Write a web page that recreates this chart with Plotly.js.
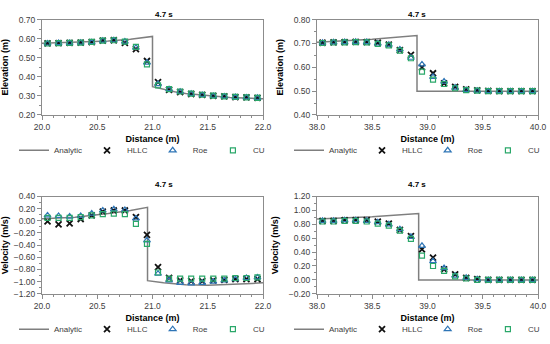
<!DOCTYPE html>
<html>
<head>
<meta charset="utf-8">
<script src="https://cdn.plot.ly/plotly-3.0.1.min.js"></script>
<style>html,body{margin:0;padding:0;background:#fff;}#chart{width:550px;height:344px;}</style>
</head>
<body>
<div id="chart"></div>
<script>
// ---- Data ----
// Sample locations
const xLeft = [20.05,20.15,20.25,20.35,20.45,20.55,20.65,20.75,20.85,20.95,21.05,21.15,21.25,21.35,21.45,21.55,21.65,21.75,21.85,21.95];
const xRight = [38.05,38.15,38.25,38.35,38.45,38.55,38.65,38.75,38.85,38.95,39.05,39.15,39.25,39.35,39.45,39.55,39.65,39.75,39.85,39.95];

// Elevation, left window (20-22 m)
const elevLeftAnalyticX = [20.0,20.3,20.6,20.8,21.0,21.0,21.1,21.2,21.3,21.5,21.7,21.9,22.0];
const elevLeftAnalyticY = [0.576,0.580,0.588,0.597,0.612,0.348,0.334,0.322,0.313,0.301,0.292,0.287,0.285];
const elevLeftHLLC = [0.575,0.577,0.578,0.579,0.582,0.590,0.592,0.578,0.545,0.483,0.372,0.332,0.320,0.310,0.305,0.300,0.297,0.294,0.292,0.290];
const elevLeftRoe  = [0.575,0.577,0.578,0.579,0.582,0.590,0.592,0.585,0.553,0.475,0.362,0.335,0.322,0.311,0.305,0.300,0.297,0.294,0.292,0.290];
const elevLeftCU   = [0.575,0.577,0.578,0.579,0.583,0.590,0.592,0.585,0.557,0.465,0.355,0.336,0.323,0.312,0.306,0.301,0.298,0.295,0.292,0.290];

// Elevation, right window (38-40 m)
const elevRightAnalyticX = [38.0,38.5,38.905,38.905,39.5,40.0];
const elevRightAnalyticY = [0.705,0.718,0.733,0.500,0.500,0.500];
const elevRightHLLC = [0.703,0.705,0.706,0.707,0.706,0.703,0.695,0.672,0.652,0.600,0.575,0.533,0.518,0.507,0.503,0.501,0.500,0.500,0.500,0.500];
const elevRightRoe  = [0.703,0.705,0.706,0.707,0.706,0.700,0.695,0.675,0.640,0.612,0.560,0.540,0.515,0.505,0.502,0.500,0.500,0.500,0.500,0.500];
const elevRightCU   = [0.702,0.704,0.705,0.706,0.705,0.698,0.692,0.670,0.638,0.582,0.548,0.530,0.512,0.504,0.502,0.500,0.500,0.500,0.500,0.500];

// Velocity, left window
const velLeftAnalyticX = [20.0,20.3,20.6,20.8,20.955,20.955,21.1,21.3,21.5,21.7,21.9,22.0];
const velLeftAnalyticY = [0.034,0.06,0.12,0.17,0.222,-0.985,-1.02,-1.05,-1.06,-1.05,-1.03,-1.02];
const velLeftHLLC = [-0.01,-0.06,-0.04,0.03,0.09,0.15,0.17,0.17,0.06,-0.23,-0.76,-0.94,-0.98,-0.99,-0.99,-0.98,-0.97,-0.96,-0.96,-0.96];
const velLeftRoe  = [0.09,0.08,0.07,0.08,0.12,0.17,0.19,0.18,0.04,-0.32,-0.87,-0.98,-1.02,-1.03,-1.02,-1.00,-0.98,-0.96,-0.94,-0.93];
const velLeftCU   = [0.05,0.05,0.05,0.06,0.09,0.11,0.12,0.11,-0.05,-0.38,-0.85,-0.95,-0.95,-0.95,-0.95,-0.95,-0.95,-0.94,-0.94,-0.93];

// Velocity, right window
const velRightAnalyticX = [38.0,38.5,38.92,38.92,39.5,40.0];
const velRightAnalyticY = [0.875,0.91,0.955,0.0,0.0,0.0];
const velRightHLLC = [0.85,0.85,0.86,0.86,0.86,0.84,0.81,0.72,0.63,0.44,0.32,0.15,0.08,0.03,0.01,0.00,0.00,0.00,0.00,0.00];
const velRightRoe  = [0.85,0.85,0.86,0.86,0.85,0.83,0.80,0.73,0.62,0.49,0.27,0.17,0.06,0.03,0.01,0.00,0.00,0.00,0.00,0.00];
const velRightCU   = [0.84,0.84,0.85,0.85,0.84,0.81,0.78,0.71,0.59,0.35,0.20,0.13,0.05,0.02,0.00,0.00,0.00,0.00,0.00,0.00];

const panelTitle = "4.7 s";
const xTitle = "Distance (m)";
const yTitleElev = "Elevation (m)";
const yTitleVel = "Velocity (m/s)";
const seriesNames = ["Analytic","HLLC","Roe","CU"];

// ---- Styles ----
const FONT = "Liberation Sans, Arial, sans-serif";
const cAnalytic = "#7f7f7f";
const cHLLC = "#111111";
const cRoe = "#2e75b6";
const cCU = "#2aa86a";

function panelTraces(ax, lg, ax_x, ax_y, xs, hllc, roe, cu) {
  const xa = "x" + (ax === 1 ? "" : ax), ya = "y" + (ax === 1 ? "" : ax);
  return [
    {x: ax_x, y: ax_y, xaxis: xa, yaxis: ya, legend: lg, name: seriesNames[0], mode: "lines",
     line: {color: cAnalytic, width: 1.5}},
    {x: xs, y: hllc, xaxis: xa, yaxis: ya, legend: lg, name: seriesNames[1], mode: "markers",
     marker: {symbol: "x-thin-open", size: 6, color: cHLLC, line: {width: 1.8, color: cHLLC}}},
    {x: xs, y: roe, xaxis: xa, yaxis: ya, legend: lg, name: seriesNames[2], mode: "markers",
     marker: {symbol: "triangle-up-open", size: 6, color: cRoe, line: {width: 1.2, color: cRoe}}},
    {x: xs, y: cu, xaxis: xa, yaxis: ya, legend: lg, name: seriesNames[3], mode: "markers",
     marker: {symbol: "square-open", size: 5, color: cCU, line: {width: 1.2, color: cCU}}}
  ];
}

const data = [].concat(
  panelTraces(1, "legend",  elevLeftAnalyticX, elevLeftAnalyticY, xLeft, elevLeftHLLC, elevLeftRoe, elevLeftCU),
  panelTraces(2, "legend2", elevRightAnalyticX, elevRightAnalyticY, xRight, elevRightHLLC, elevRightRoe, elevRightCU),
  panelTraces(3, "legend3", velLeftAnalyticX, velLeftAnalyticY, xLeft, velLeftHLLC, velLeftRoe, velLeftCU),
  panelTraces(4, "legend4", velRightAnalyticX, velRightAnalyticY, xRight, velRightHLLC, velRightRoe, velRightCU)
);

const W = 550, H = 344;
const px = v => v / W, py = v => 1 - v / H;

function xax(domain, range, anchor) {
  return {domain: domain, range: range, anchor: anchor, dtick: 0.5, tickformat: ".1f",
    showgrid: false, zeroline: false, showline: true, mirror: true, linecolor: "#8c8c8c", linewidth: 1,
    ticks: "outside", ticklen: 4, tickcolor: "#8c8c8c",
    minor: {dtick: 0.1, ticks: "outside", ticklen: 2, tickcolor: "#8c8c8c"},
    tickfont: {family: FONT, size: 8.5, color: "#404040"},
    title: {text: xTitle, font: {family: FONT, size: 9, color: "#000", weight: "bold"}, standoff: 4},
    fixedrange: true};
}
function yax(domain, range, dtick, anchor, title) {
  return {domain: domain, range: range, anchor: anchor, dtick: dtick, tickformat: ".2f",
    showgrid: false, zeroline: false, showline: true, mirror: true, linecolor: "#8c8c8c", linewidth: 1,
    ticks: "outside", ticklen: 4, tickcolor: "#8c8c8c",
    minor: {dtick: dtick / 2, ticks: "outside", ticklen: 2, tickcolor: "#8c8c8c"},
    tickfont: {family: FONT, size: 8.5, color: "#404040"},
    title: {text: title, font: {family: FONT, size: 9, color: "#000", weight: "bold"}, standoff: 8},
    fixedrange: true};
}
function leg(x, y) {
  return {orientation: "h", x: x, y: y, xanchor: "left", yanchor: "middle",
    font: {family: FONT, size: 8, color: "#404040"}, tracegroupgap: 0,
    itemwidth: 30, bgcolor: "rgba(0,0,0,0)"};
}

const dL = [px(42), px(263)], dR = [px(317), px(538)];
const dT = [py(117), py(20)], dB = [py(299), py(200)];

const layout = {
  width: W, height: H, margin: {l: 0, r: 0, t: 0, b: 0},
  paper_bgcolor: "#fff", plot_bgcolor: "#fff", showlegend: true,
  font: {family: FONT},
  xaxis: xax(dL, [20, 22], "y"),
  yaxis: yax(dT, [0.2, 0.7], 0.1, "x", yTitleElev),
  xaxis2: xax(dR, [38, 40], "y2"),
  yaxis2: yax(dT, [0.4, 0.8], 0.1, "x2", yTitleElev),
  xaxis3: xax(dL, [20, 22], "y3"),
  yaxis3: yax(dB, [-1.2, 0.4], 0.2, "x3", yTitleVel),
  xaxis4: xax(dR, [38, 40], "y4"),
  yaxis4: yax(dB, [-0.2, 1.2], 0.2, "x4", yTitleVel),
  legend: leg(px(14), py(153)),
  legend2: leg(px(289), py(153)),
  legend3: leg(px(14), py(335)),
  legend4: leg(px(289), py(335)),
  annotations: [
    {text: panelTitle, x: px(153), y: py(8), xref: "paper", yref: "paper", showarrow: false, font: {family: FONT, size: 8, color: "#000", weight: "bold"}},
    {text: panelTitle, x: px(428), y: py(8), xref: "paper", yref: "paper", showarrow: false, font: {family: FONT, size: 8, color: "#000", weight: "bold"}},
    {text: panelTitle, x: px(153), y: py(188), xref: "paper", yref: "paper", showarrow: false, font: {family: FONT, size: 8, color: "#000", weight: "bold"}},
    {text: panelTitle, x: px(428), y: py(188), xref: "paper", yref: "paper", showarrow: false, font: {family: FONT, size: 8, color: "#000", weight: "bold"}}
  ]
};

Plotly.newPlot("chart", data, layout, {staticPlot: true, displayModeBar: false});
</script>
</body>
</html>
